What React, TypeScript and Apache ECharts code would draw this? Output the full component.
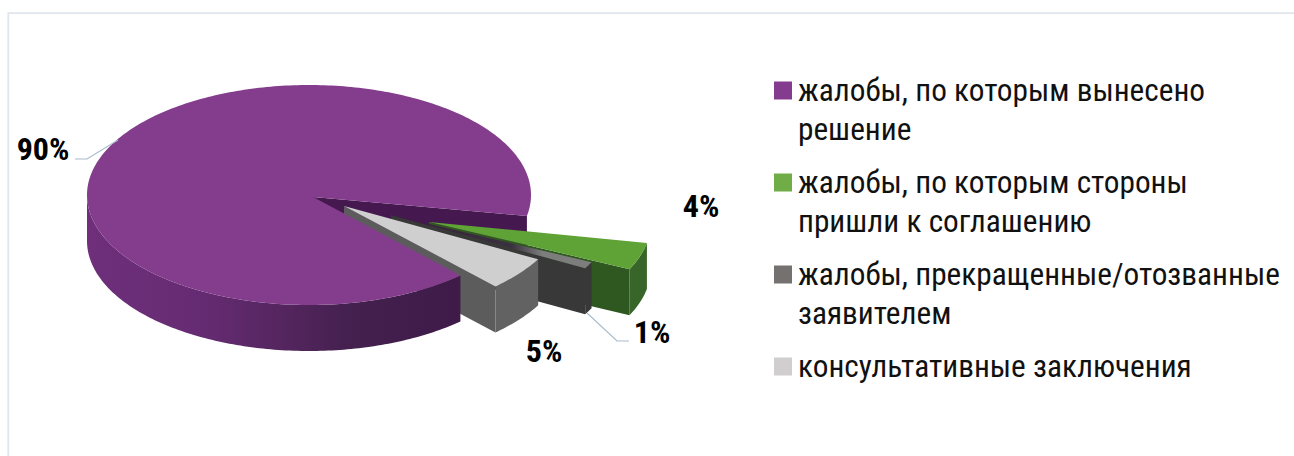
import React, { useEffect, useRef } from "react";
import * as echarts from "echarts";

const sliceNames = [
  "жалобы, по которым вынесено решение",
  "жалобы, по которым стороны пришли к соглашению",
  "жалобы, прекращенные/отозванные заявителем",
  "консультативные заключения",
];
const legendLines = [
  "\nжалобы, по которым вынесено\nрешение",
  "\nжалобы, по которым стороны\nпришли к соглашению",
  "\nжалобы, прекращенные/отозванные\nзаявителем",
  "\nконсультативные заключения\n ",
];
const sliceValues = [90, 4, 1, 5];

const legendColors = ["#843c8e", "#70ad47", "#767171", "#d0cece"];
const START_ANGLE = 47;
const CX = 309, CY = 195, RX = 222, RY = 110, DEPTH = 46;
const FONT = "'Roboto Condensed','Liberation Sans Narrow',Roboto,sans-serif";

// apex shift of every slice, top colour, side wall colour, outer wall colour, label spot
const looks = [
  { dx: 4, dy: 2, top: "#843d8d", side: "#45184f", outer: "#3d1a48", lx: 43, ly: 149 },
  { dx: 120, dy: 27, top: "#5fa336", side: "#2f5720", outer: "#38662a", lx: 701, ly: 206 },
  { dx: 82, dy: 20, top: "#7d7d7d", side: "#383838", outer: "#383838", lx: 652, ly: 332 },
  { dx: 35, dy: 11, top: "#cfcfcf", side: "#5c5c5c", outer: "#626262", lx: 544, ly: 351 },
];
const leaders: Record<number, number[][]> = {
  0: [[75, 159], [87, 159], [118, 140]],
  2: [[587, 313], [617, 341], [629, 341]],
};

const total = sliceValues.reduce((a, b) => a + b, 0);
const angleSpan = (v: number) => (v / total) * 360;
const startOf = (i: number) =>
  START_ANGLE + sliceValues.slice(0, i).reduce((a, b) => a + angleSpan(b), 0);

const rad = (d: number) => (d * Math.PI) / 180;
function arc(ax: number, ay: number, a0: number, a1: number): number[][] {
  const pts: number[][] = [];
  const n = Math.max(2, Math.ceil(Math.abs(a1 - a0)));
  for (let k = 0; k <= n; k++) {
    const a = rad(a0 + ((a1 - a0) * k) / n);
    pts.push([ax + RX * Math.cos(a), ay + RY * Math.sin(a)]);
  }
  return pts;
}
const drop = (pts: number[][]) => pts.map(([x, y]) => [x, y + DEPTH]);
const poly = (points: number[][], fill: any, z2: number) => ({
  type: "polygon",
  z2,
  shape: { points },
  style: { fill, stroke: "none" },
});

function slice(i: number) {
  return (_p: any, api: any) => {
    const value = api.value(0);
    const a0 = startOf(i);
    const a1 = a0 + angleSpan(value);
    const l = looks[i];
    const ax = CX + l.dx, ay = CY + l.dy;
    const children: any[] = [];
    if (i === 0) {
      const rim = arc(CX, CY, a0, 180);
      const end = arc(CX, CY, a1, a1)[0];
      const wallFill = new echarts.graphic.LinearGradient(87, 0, 470, 0, [
        { offset: 0, color: "#6f2f7b" },
        { offset: 0.3, color: "#652b72" },
        { offset: 0.5, color: "#552660" },
        { offset: 0.7, color: "#43204d" },
        { offset: 1, color: "#3d1a48" },
      ], true);
      children.push(poly([[ax, ay], end, [end[0], end[1] + DEPTH], [ax, ay + DEPTH]], l.side, 1));
      children.push(poly([...rim, ...drop(rim).reverse()], wallFill, 20));
      children.push(poly([[ax, ay], ...arc(CX, CY, a0, a1)], l.top, 21));
    } else {
      const z = 2 + i * 3;
      const rim = arc(ax, ay, a0, a1);
      const near = rim[rim.length - 1];
      const topFill = i === 2
        ? new echarts.graphic.LinearGradient(ax, 0, near[0], 0, [
            { offset: 0, color: "#3a1a3e" },
            { offset: 0.62, color: "#3a3040" },
            { offset: 0.78, color: "#7d7d7d" },
            { offset: 1, color: "#7d7d7d" },
          ], true)
        : l.top;
      children.push(poly([[ax, ay], near, [near[0], near[1] + DEPTH], [ax, ay + DEPTH]], l.side, z));
      children.push(poly([...rim, ...drop(rim).reverse()], l.outer, z + 1));
      children.push(poly([[ax, ay], ...rim], topFill, z + 2));
    }
    if (leaders[i]) {
      children.push({
        type: "polyline",
        z2: 30,
        shape: { points: leaders[i] },
        style: { stroke: "#aabccb", lineWidth: 1.2, fill: "none" },
      });
    }
    children.push({
      type: "text",
      z2: 31,
      x: l.lx,
      y: l.ly,
      style: {
        text: `${value}%`,
        fill: "#000000",
        font: `bold 32px ${FONT}`,
        textAlign: "center",
        textVerticalAlign: "middle",
      },
    });
    return { type: "group", children };
  };
}

export default function App() {
  const ref = useRef<HTMLDivElement>(null);
  useEffect(() => {
    document.body.style.margin = "0";
    const chart = echarts.init(ref.current!, undefined, { renderer: "svg" });
    chart.setOption({
      animation: false,
      backgroundColor: "#ffffff",
      legend: {
        orient: "vertical",
        left: 774,
        top: 32,
        padding: 0,
        itemGap: -25,
        itemWidth: 18,
        itemHeight: 18,
        icon: "rect",
        selectedMode: false,
        align: "left",
        data: sliceNames,
        formatter: (name: string) => legendLines[sliceNames.indexOf(name)],
        textStyle: { fontFamily: FONT, fontSize: 31.3, lineHeight: 39, color: "#111111", padding: [0, 0, 0, 1] },
      },
      graphic: [
        {
          type: "polyline",
          shape: { points: [[8.3, 456], [8.3, 13.2], [1294, 13.2]] },
          style: { stroke: "#e0e6ec", lineWidth: 1.8, fill: "none" },
          silent: true,
        },
      ],
      series: sliceNames.map((name, i) => ({
        type: "custom",
        name,
        coordinateSystem: "none",
        silent: true,
        itemStyle: { color: legendColors[i] },
        data: [[sliceValues[i]]],
        renderItem: slice(i),
      })),
    });
    return () => chart.dispose();
  }, []);
  return <div ref={ref} style={{ width: 1294, height: 456 }} />;
}
